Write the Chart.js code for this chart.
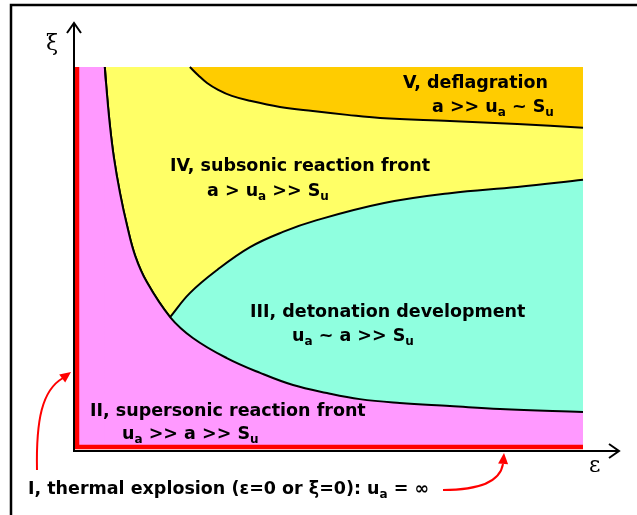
<!DOCTYPE html>
<html>
<head>
<meta charset="utf-8">
<script src="https://cdn.jsdelivr.net/npm/chart.js@4.4.1/dist/chart.umd.min.js"></script>
<style>
  html, body { margin: 0; padding: 0; background: #fff; }
  #wrap { width: 637px; height: 515px; }
</style>
</head>
<body>
<div id="wrap"><canvas id="myChart" width="637" height="515"></canvas></div>
<script>
// boundary curves of the regime diagram (x = epsilon, y = xi, 0..100)
var lowerX = [5.5, 5.9, 6.5, 7.3, 8.5, 9.9, 11.5, 13.8, 18.4, 22.9, 29.6, 36.2, 42.7, 49.4, 55.9, 63.8, 73.7, 83.6, 100];
var lowerY = [100, 93.2, 84.7, 76.1, 66.8, 58.2, 50.3, 43.4, 34.2, 28.7, 23.4, 19.5, 16.3, 14.2, 12.6, 11.6, 10.8, 10.0, 9.2];

var middleX = [18.4, 22.3, 27.7, 34.2, 40.7, 47.4, 60.7, 73.7, 87.0, 100];
var middleY = [34.2, 40.5, 46.6, 52.6, 56.6, 59.7, 64.2, 66.8, 68.4, 70.3];

var upperX = [22.3, 23.9, 25.7, 27.9, 30.6, 34.2, 40.1, 46.6, 53.4, 59.9, 73.7, 87.0, 100];
var upperY = [100, 97.9, 95.8, 94.0, 92.4, 91.1, 89.5, 88.4, 87.4, 86.6, 85.8, 85.0, 84.0];

// eps = 0 or xi = 0 line
var edgeX = [0, 0, 100];
var edgeY = [100, 0, 0];

var regionLabels = [
  { x: 403, y: 88,  parts: [["V, deflagration", 0]] },
  { x: 432, y: 112, parts: [["a >> u", 0], ["a", 1], [" ~ S", 0], ["u", 1]] },
  { x: 170, y: 171, parts: [["IV, subsonic reaction front", 0]] },
  { x: 207, y: 196, parts: [["a > u", 0], ["a", 1], [" >> S", 0], ["u", 1]] },
  { x: 250, y: 317, parts: [["III, detonation development", 0]] },
  { x: 292, y: 341, parts: [["u", 0], ["a", 1], [" ~ a >> S", 0], ["u", 1]] },
  { x: 90,  y: 416, parts: [["II, supersonic reaction front", 0]] },
  { x: 122, y: 439, parts: [["u", 0], ["a", 1], [" >> a >> S", 0], ["u", 1]] },
  { x: 28,  y: 494, parts: [["I, thermal explosion (\u03b5=0 or \u03be=0): u", 0], ["a", 1], [" = \u221e", 0]] }
];

function pts(xs, ys) {
  return xs.map(function (x, i) { return { x: x, y: ys[i] }; });
}

var pink = '#FF99FF';
var yellow = '#FFFF66';
var aqua = '#8FFFDF';
var orange = '#FFCC00';

function arrowHead(ctx, tx, ty, ang, len, half) {
  ctx.beginPath();
  ctx.moveTo(tx, ty);
  ctx.lineTo(tx - len * Math.cos(ang) + half * Math.sin(ang), ty - len * Math.sin(ang) - half * Math.cos(ang));
  ctx.lineTo(tx - len * Math.cos(ang) - half * Math.sin(ang), ty - len * Math.sin(ang) + half * Math.cos(ang));
  ctx.closePath();
  ctx.fill();
}

function drawRich(ctx, x, y, parts) {
  var cx = x;
  parts.forEach(function (p) {
    if (p[1]) {
      ctx.font = 'bold 12px "DejaVu Sans"';
      ctx.fillText(p[0], cx, y + 4);
    } else {
      ctx.font = 'bold 17.5px "DejaVu Sans"';
      ctx.fillText(p[0], cx, y);
    }
    cx += ctx.measureText(p[0]).width;
  });
}

var decorations = {
  id: 'decorations',
  afterDraw: function (chart) {
    var ctx = chart.ctx;
    ctx.save();
    // outer frame
    ctx.strokeStyle = '#000';
    ctx.lineWidth = 2.5;
    ctx.beginPath();
    ctx.moveTo(11, 515);
    ctx.lineTo(11, 5);
    ctx.lineTo(637, 5);
    ctx.stroke();

    // axes with open arrow heads
    ctx.lineWidth = 2;
    ctx.beginPath();
    ctx.moveTo(74, 452);
    ctx.lineTo(74, 24);
    ctx.moveTo(67, 33);
    ctx.lineTo(74, 23);
    ctx.lineTo(81, 33);
    ctx.moveTo(73, 451);
    ctx.lineTo(619, 451);
    ctx.moveTo(609, 444);
    ctx.lineTo(619, 451);
    ctx.lineTo(609, 458);
    ctx.stroke();

    ctx.fillStyle = '#000';
    ctx.font = '22px "DejaVu Serif"';
    ctx.textBaseline = 'alphabetic';
    ctx.fillText('\u03be', 46, 50);
    ctx.fillText('\u03b5', 589, 472);

    regionLabels.forEach(function (l) { drawRich(ctx, l.x, l.y, l.parts); });

    // red pointers
    ctx.strokeStyle = '#FF0000';
    ctx.fillStyle = '#FF0000';
    ctx.lineWidth = 2;
    ctx.beginPath();
    ctx.moveTo(37, 470);
    ctx.bezierCurveTo(36, 420, 42, 390, 63, 378);
    ctx.stroke();
    arrowHead(ctx, 71, 372, Math.atan2(-6, 8), 11, 5);

    ctx.beginPath();
    ctx.moveTo(443, 490);
    ctx.bezierCurveTo(478, 490, 500, 482, 503, 464);
    ctx.stroke();
    arrowHead(ctx, 504, 453, -Math.PI / 2 + 0.08, 11, 5);
    ctx.restore();
  }
};

var lineBase = { pointRadius: 0, borderColor: '#000', borderWidth: 2, tension: 0.4, clip: 2 };

var ctx = document.getElementById('myChart');
var regimeChart = new Chart(ctx, {
  type: 'line',
  data: {
    datasets: [
      { label: 'II', data: pts([0, 100], [100, 100]), fill: 'origin', backgroundColor: pink, borderWidth: 0, pointRadius: 0, order: 6 },
      Object.assign({ label: 'IV', data: pts(lowerX, lowerY), fill: 'end', backgroundColor: yellow, order: 5 }, lineBase),
      Object.assign({ label: 'III', data: pts(middleX, middleY), fill: 'origin', backgroundColor: aqua, order: 4 }, lineBase),
      Object.assign({ label: 'II lower', data: pts(lowerX, lowerY), fill: 'origin', backgroundColor: pink, order: 3 }, lineBase),
      Object.assign({ label: 'V', data: pts(upperX, upperY), fill: 'end', backgroundColor: orange, order: 2 }, lineBase),
      { label: 'I', data: pts(edgeX, edgeY), fill: false, borderColor: '#FF0000', borderWidth: 4.5, pointRadius: 0, clip: 5, order: 1 }
    ]
  },
  options: {
    responsive: false,
    animation: false,
    events: [],
    layout: { padding: { left: 77, right: 54, top: 67, bottom: 68 } },
    plugins: { legend: { display: false }, tooltip: { enabled: false } },
    scales: {
      x: { type: 'linear', min: 0, max: 100, display: false },
      y: { type: 'linear', min: 0, max: 100, display: false }
    }
  },
  plugins: [decorations]
});
</script>
</body>
</html>
